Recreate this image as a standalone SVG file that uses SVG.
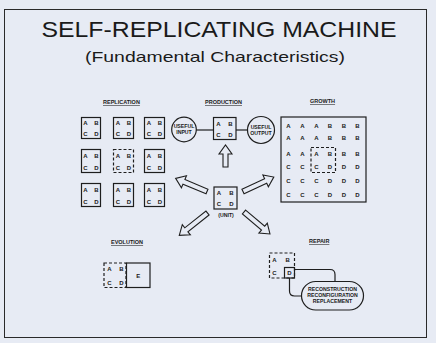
<svg xmlns="http://www.w3.org/2000/svg" width="436" height="343" viewBox="0 0 436 343">
<style>
.bg{fill:#e7ebf4}
.frame{fill:none;stroke:#2a2a2a;stroke-width:1}
.box{fill:none;stroke:#1e1e1e;stroke-width:1.2}
.dbox{fill:none;stroke:#1e1e1e;stroke-width:1.2;stroke-dasharray:3 2}
.ln{fill:none;stroke:#1e1e1e;stroke-width:1.2}
.arr{fill:#e7ebf4;stroke:#1e1e1e;stroke-width:1.1;stroke-linejoin:miter}
.t{font-family:"Liberation Sans",Arial,sans-serif;fill:#1a1a1a}
.title{font-size:22px}
.sub{font-size:15px}
.lbl{font-size:5.5px;font-weight:bold;text-decoration:underline}
.k{font-size:6px;font-weight:bold;text-anchor:middle}
.s{font-size:5.2px;font-weight:bold;text-anchor:middle}
</style>
<defs>
<path id="a22" d="M0,-2.5 L13,-2.5 L13,-6.5 L22,0 L13,6.5 L13,2.5 L0,2.5 Z"/>
<path id="a34" d="M0,-2.5 L25,-2.5 L25,-6.5 L34,0 L25,6.5 L25,2.5 L0,2.5 Z"/>
<path id="a36" d="M0,-2.5 L27,-2.5 L27,-6.5 L36,0 L27,6.5 L27,2.5 L0,2.5 Z"/>
</defs>
<rect class="bg" x="0" y="0" width="436" height="343"/>
<rect class="frame" x="4.5" y="9.5" width="422" height="328"/>

<g id="title">
<text class="t title" x="219" y="37" text-anchor="middle" textLength="355" lengthAdjust="spacingAndGlyphs">SELF-REPLICATING MACHINE</text>
<text class="t sub" x="215" y="62" text-anchor="middle" textLength="260" lengthAdjust="spacingAndGlyphs">(Fundamental Characteristics)</text>
</g>

<g id="labels">
<text class="t lbl" x="103" y="104">REPLICATION</text>
<text class="t lbl" x="205" y="104">PRODUCTION</text>
<text class="t lbl" x="310" y="103">GROWTH</text>
<text class="t lbl" x="111" y="244">EVOLUTION</text>
<text class="t lbl" x="309" y="243">REPAIR</text>
</g>

<g id="replication">
<g id="r1">
<rect class="box" x="81.5" y="117.5" width="19" height="21"/>
<text class="t k" x="85.5" y="125">A</text><text class="t k" x="96.5" y="125">B</text>
<text class="t k" x="85.5" y="136">C</text><text class="t k" x="96.5" y="136">D</text>
</g>
<g id="r2">
<rect class="box" x="113.5" y="117.5" width="20" height="21"/>
<text class="t k" x="118" y="125">A</text><text class="t k" x="129" y="125">B</text>
<text class="t k" x="118" y="136">C</text><text class="t k" x="129" y="136">D</text>
</g>
<g id="r3">
<rect class="box" x="144.5" y="117.5" width="20" height="21"/>
<text class="t k" x="149" y="125">A</text><text class="t k" x="160" y="125">B</text>
<text class="t k" x="149" y="136">C</text><text class="t k" x="160" y="136">D</text>
</g>
<g id="r4">
<rect class="box" x="81.5" y="149.5" width="19" height="23"/>
<text class="t k" x="85.5" y="158">A</text><text class="t k" x="96.5" y="158">B</text>
<text class="t k" x="85.5" y="170">C</text><text class="t k" x="96.5" y="170">D</text>
</g>
<g id="r5">
<rect class="dbox" x="113.5" y="149.5" width="20" height="23"/>
<text class="t k" x="118" y="158">A</text><text class="t k" x="129" y="158">B</text>
<text class="t k" x="118" y="170">C</text><text class="t k" x="129" y="170">D</text>
</g>
<g id="r6">
<rect class="box" x="144.5" y="149.5" width="20" height="23"/>
<text class="t k" x="149" y="158">A</text><text class="t k" x="160" y="158">B</text>
<text class="t k" x="149" y="170">C</text><text class="t k" x="160" y="170">D</text>
</g>
<g id="r7">
<rect class="box" x="81.5" y="183.5" width="19" height="23"/>
<text class="t k" x="85.5" y="192">A</text><text class="t k" x="96.5" y="192">B</text>
<text class="t k" x="85.5" y="204">C</text><text class="t k" x="96.5" y="204">D</text>
</g>
<g id="r8">
<rect class="box" x="113.5" y="183.5" width="20" height="23"/>
<text class="t k" x="118" y="192">A</text><text class="t k" x="129" y="192">B</text>
<text class="t k" x="118" y="204">C</text><text class="t k" x="129" y="204">D</text>
</g>
<g id="r9">
<rect class="box" x="144.5" y="183.5" width="20" height="23"/>
<text class="t k" x="149" y="192">A</text><text class="t k" x="160" y="192">B</text>
<text class="t k" x="149" y="204">C</text><text class="t k" x="160" y="204">D</text>
</g>
</g>

<g id="useful-input">
<circle class="box" cx="184" cy="129.5" r="12.3"/>
<text class="t s" x="184" y="128">USEFUL</text>
<text class="t s" x="184" y="134">INPUT</text>
</g>
<g id="production-box">
<rect class="box" x="213.5" y="117.5" width="22.5" height="22"/>
<text class="t k" x="218.5" y="125.5">A</text><text class="t k" x="230.5" y="125.5">B</text>
<text class="t k" x="218.5" y="136.5">C</text><text class="t k" x="230.5" y="136.5">D</text>
</g>
<g id="useful-output">
<circle class="box" cx="261" cy="130" r="13.5"/>
<text class="t s" x="261" y="128.5">USEFUL</text>
<text class="t s" x="261" y="134.5">OUTPUT</text>
</g>

<g id="unit">
<rect class="box" x="214" y="187" width="23" height="22"/>
<text class="t k" x="219" y="195">A</text><text class="t k" x="231.5" y="195">B</text>
<text class="t k" x="219" y="206">C</text><text class="t k" x="231.5" y="206">D</text>
<text class="t s" x="226" y="216.5">(UNIT)</text>
</g>

<g id="growth">
<rect class="box" x="281" y="117" width="85" height="85"/>
<rect class="dbox" x="311" y="147.5" width="24.5" height="25"/>
<g class="t k">
<text x="288.5" y="128">A</text><text x="302.3" y="128">A</text><text x="316.5" y="128">A</text><text x="330" y="128">B</text><text x="344" y="128">B</text><text x="357.5" y="128">B</text>
<text x="288.5" y="139.5">A</text><text x="302.3" y="139.5">A</text><text x="316.5" y="139.5">A</text><text x="330" y="139.5">B</text><text x="344" y="139.5">B</text><text x="357.5" y="139.5">B</text>
<text x="288.5" y="155.5">A</text><text x="302.3" y="155.5">A</text><text x="316.5" y="155.5">A</text><text x="330" y="155.5">B</text><text x="344" y="155.5">B</text><text x="357.5" y="155.5">B</text>
<text x="288.5" y="169">C</text><text x="302.3" y="169">C</text><text x="316.5" y="169">C</text><text x="330" y="169">D</text><text x="344" y="169">D</text><text x="357.5" y="169">D</text>
<text x="288.5" y="183">C</text><text x="302.3" y="183">C</text><text x="316.5" y="183">C</text><text x="330" y="183">D</text><text x="344" y="183">D</text><text x="357.5" y="183">D</text>
<text x="288.5" y="196.5">C</text><text x="302.3" y="196.5">C</text><text x="316.5" y="196.5">C</text><text x="330" y="196.5">D</text><text x="344" y="196.5">D</text><text x="357.5" y="196.5">D</text>
</g>
</g>

<g id="evolution">
<rect class="dbox" x="104" y="263" width="22" height="24.5"/>
<rect class="box" x="126.5" y="263" width="23.5" height="24.5"/>
<text class="t k" x="109.5" y="271">A</text><text class="t k" x="121.5" y="271">B</text>
<text class="t k" x="109.5" y="284.5">C</text><text class="t k" x="121.5" y="284.5">D</text>
<text class="t k" x="138.3" y="277.5">E</text>
</g>

<g id="repair">
<rect class="dbox" x="269.5" y="253" width="25" height="25"/>
<rect class="box" x="284.5" y="267.5" width="10" height="10.5"/>
<text class="t k" x="274.3" y="261.5">A</text><text class="t k" x="287.7" y="261.5">B</text>
<text class="t k" x="274.3" y="275">C</text><text class="t k" x="289.5" y="275">D</text>
</g>
<g id="repair-actions">
<rect class="box" x="301.5" y="281.5" width="62" height="28.5" rx="14.2" ry="14.2"/>
<text class="t s" x="332.5" y="291">RECONSTRUCTION</text>
<text class="t s" x="332.5" y="297">RECONFIGURATION</text>
<text class="t s" x="332.5" y="303">REPLACEMENT</text>
</g>

<g id="connectors">
<line class="ln" x1="196.3" y1="130" x2="213.5" y2="130"/>
<line class="ln" x1="236" y1="130" x2="247.5" y2="130"/>
<path class="ln" d="M294.5,269.5 L330,269.5 Q335,269.5 335,274.5 L335,281.5"/>
<path class="ln" d="M289.5,278 L289.5,291 Q289.5,296 294.5,296 L301.7,296"/>
<use href="#a22" class="arr" transform="translate(225.5,167) rotate(-90)"/>
<use href="#a34" class="arr" transform="translate(207,191.5) rotate(-157.25)"/>
<use href="#a34" class="arr" transform="translate(243,191.5) rotate(-25.1)"/>
<use href="#a36" class="arr" transform="translate(207.5,213) rotate(141.6)"/>
<use href="#a34" class="arr" transform="translate(244,212) rotate(40.2)"/>
</g>
</svg>
